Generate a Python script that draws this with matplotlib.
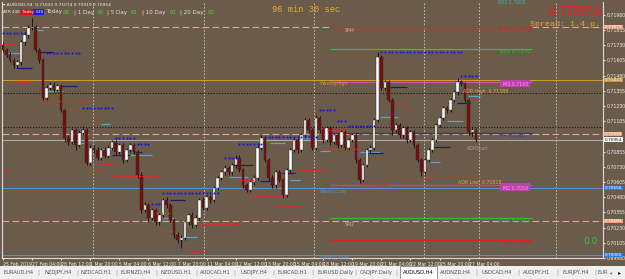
import matplotlib
matplotlib.use("Agg")
import matplotlib.pyplot as plt
from matplotlib.patches import Rectangle
import matplotlib.transforms as mtransforms

W, H = 625, 279
BG = "#6b5b4a"

# ---------------- data ----------------
opens = [0.71731, 0.71690, 0.71649, 0.71608, 0.71567, 0.71591, 0.71756, 0.71813, 0.71871, 0.71879,
         0.71690, 0.71608, 0.71295, 0.71378, 0.71402, 0.71361, 0.71394, 0.71197, 0.70967, 0.70934,
         0.71032, 0.70909, 0.71008, 0.71032, 0.70761, 0.70884, 0.70868, 0.70802, 0.70868, 0.70819,
         0.70884, 0.70934, 0.70852, 0.70909, 0.70786, 0.70868, 0.70909, 0.70852, 0.70663, 0.70375,
         0.70416, 0.70309, 0.70375, 0.70276, 0.70334, 0.70457, 0.70416, 0.70293, 0.70169, 0.70128,
         0.70145, 0.70276, 0.70334, 0.70252, 0.70309, 0.70457, 0.70391, 0.70482, 0.70457, 0.70556,
         0.70638, 0.70687, 0.70720, 0.70687, 0.70745, 0.70802, 0.70704, 0.70580, 0.70539, 0.70605,
         0.70638, 0.70884, 0.70967, 0.70786, 0.70638, 0.70580, 0.70687, 0.70621, 0.70498, 0.70704,
         0.70868, 0.70950, 0.70868, 0.70991, 0.71115, 0.71032, 0.70884, 0.71131, 0.71032, 0.70950,
         0.71049, 0.70934, 0.70991, 0.70909, 0.71016, 0.70884, 0.70950, 0.70991, 0.70786, 0.70621,
         0.70745, 0.70868, 0.70884, 0.71115, 0.71632, 0.71378, 0.71427, 0.71279, 0.71032, 0.71074,
         0.70991, 0.71049, 0.70950, 0.71016, 0.70909, 0.70786, 0.70687, 0.70786, 0.70868, 0.70950,
         0.71074, 0.71131, 0.71213, 0.71197, 0.71279, 0.71345, 0.71427, 0.71411, 0.71279, 0.71016,
         0.71032]
highs = [0.71756, 0.71706, 0.71674, 0.71624, 0.71608, 0.71772, 0.71838, 0.71896, 0.71953, 0.71896,
         0.71706, 0.71624, 0.71402, 0.71427, 0.71427, 0.71411, 0.71411, 0.71213, 0.70991, 0.71049,
         0.71049, 0.71032, 0.71065, 0.71049, 0.70909, 0.70909, 0.70893, 0.70884, 0.70893, 0.70909,
         0.70950, 0.70950, 0.70926, 0.70926, 0.70884, 0.70926, 0.70926, 0.70868, 0.70687, 0.70441,
         0.70432, 0.70391, 0.70391, 0.70350, 0.70473, 0.70482, 0.70432, 0.70309, 0.70194, 0.70169,
         0.70293, 0.70350, 0.70358, 0.70334, 0.70473, 0.70482, 0.70498, 0.70498, 0.70572, 0.70654,
         0.70704, 0.70745, 0.70736, 0.70761, 0.70827, 0.70827, 0.70720, 0.70597, 0.70621, 0.70663,
         0.70909, 0.70991, 0.70983, 0.70802, 0.70663, 0.70704, 0.70704, 0.70638, 0.70720, 0.70884,
         0.70967, 0.70967, 0.71008, 0.71131, 0.71131, 0.71049, 0.71156, 0.71148, 0.71049, 0.71065,
         0.71065, 0.71008, 0.71008, 0.71032, 0.71032, 0.70967, 0.71008, 0.71008, 0.70802, 0.70761,
         0.70884, 0.70909, 0.71131, 0.71674, 0.71649, 0.71443, 0.71443, 0.71295, 0.71090, 0.71090,
         0.71065, 0.71065, 0.71032, 0.71032, 0.70926, 0.70802, 0.70802, 0.70884, 0.70967, 0.71090,
         0.71148, 0.71230, 0.71230, 0.71295, 0.71361, 0.71460, 0.71443, 0.71427, 0.71295, 0.71049,
         0.71049]
lows = [0.71674, 0.71632, 0.71591, 0.71542, 0.71542, 0.71567, 0.71731, 0.71789, 0.71854, 0.71674,
        0.71583, 0.71279, 0.71279, 0.71361, 0.71345, 0.71345, 0.71180, 0.70934, 0.70909, 0.70917,
        0.70868, 0.70893, 0.70991, 0.70745, 0.70745, 0.70843, 0.70786, 0.70786, 0.70802, 0.70802,
        0.70868, 0.70827, 0.70835, 0.70761, 0.70769, 0.70852, 0.70835, 0.70638, 0.70350, 0.70358,
        0.70276, 0.70293, 0.70252, 0.70252, 0.70317, 0.70391, 0.70276, 0.70145, 0.70104, 0.70063,
        0.70128, 0.70252, 0.70227, 0.70235, 0.70293, 0.70375, 0.70375, 0.70432, 0.70441, 0.70539,
        0.70621, 0.70663, 0.70663, 0.70663, 0.70720, 0.70687, 0.70556, 0.70523, 0.70523, 0.70580,
        0.70621, 0.70868, 0.70769, 0.70621, 0.70556, 0.70556, 0.70605, 0.70473, 0.70482, 0.70687,
        0.70852, 0.70843, 0.70852, 0.70967, 0.71008, 0.70868, 0.70868, 0.71008, 0.70926, 0.70934,
        0.70909, 0.70917, 0.70884, 0.70893, 0.70868, 0.70868, 0.70934, 0.70761, 0.70597, 0.70605,
        0.70728, 0.70843, 0.70868, 0.71098, 0.71361, 0.71361, 0.71263, 0.70991, 0.71016, 0.70967,
        0.70967, 0.70926, 0.70934, 0.70884, 0.70769, 0.70654, 0.70671, 0.70769, 0.70852, 0.70934,
        0.71057, 0.71115, 0.71172, 0.71180, 0.71263, 0.71320, 0.71394, 0.71263, 0.70991, 0.70983,
        0.70934]
closes = [0.71690, 0.71649, 0.71608, 0.71567, 0.71591, 0.71756, 0.71813, 0.71871, 0.71879, 0.71690,
          0.71608, 0.71295, 0.71378, 0.71402, 0.71361, 0.71394, 0.71197, 0.70967, 0.70934, 0.71032,
          0.70909, 0.71008, 0.71032, 0.70761, 0.70884, 0.70868, 0.70802, 0.70868, 0.70819, 0.70884,
          0.70934, 0.70852, 0.70909, 0.70786, 0.70868, 0.70909, 0.70852, 0.70663, 0.70375, 0.70416,
          0.70309, 0.70375, 0.70276, 0.70334, 0.70457, 0.70416, 0.70293, 0.70169, 0.70128, 0.70145,
          0.70276, 0.70334, 0.70252, 0.70309, 0.70457, 0.70391, 0.70482, 0.70457, 0.70556, 0.70638,
          0.70687, 0.70720, 0.70687, 0.70745, 0.70802, 0.70704, 0.70580, 0.70539, 0.70605, 0.70638,
          0.70884, 0.70967, 0.70786, 0.70638, 0.70580, 0.70687, 0.70621, 0.70498, 0.70704, 0.70868,
          0.70950, 0.70868, 0.70991, 0.71115, 0.71032, 0.70884, 0.71131, 0.71032, 0.70950, 0.71049,
          0.70934, 0.70991, 0.70909, 0.71016, 0.70884, 0.70950, 0.70991, 0.70786, 0.70621, 0.70745,
          0.70868, 0.70884, 0.71115, 0.71632, 0.71378, 0.71427, 0.71279, 0.71032, 0.71074, 0.70991,
          0.71049, 0.70950, 0.71016, 0.70909, 0.70786, 0.70687, 0.70786, 0.70868, 0.70950, 0.71074,
          0.71131, 0.71213, 0.71197, 0.71279, 0.71345, 0.71427, 0.71411, 0.71279, 0.71016, 0.71032,
          0.70954]

date_labels = ["25 Feb 2019", "27 Feb 04:00", "28 Feb 12:00", "1 Mar 20:00", "5 Mar 04:00",
               "6 Mar 12:00", "7 Mar 20:00", "11 Mar 04:00", "12 Mar 12:00", "13 Mar 20:00",
               "15 Mar 04:00", "18 Mar 12:00", "19 Mar 20:00", "21 Mar 04:00", "22 Mar 12:00",
               "25 Mar 20:00", "27 Mar 04:00"]
date_idx = [0, 8, 16, 24, 32, 40, 48, 56, 64, 72, 80, 88, 96, 104, 112, 120, 128]

# 0.70980 is hidden behind the bid / pivot boxes in the reference
price_ticks = [0.71980, 0.71855, 0.71730, 0.71605, 0.71480, 0.71355, 0.71230, 0.71105,
               0.70855, 0.70730, 0.70605, 0.70480, 0.70355, 0.70230, 0.70105, 0.69980]

# blue dotted resistance marks: (price, first candle, last candle)
blue_dots = [(0.71830, 0, 6), (0.71665, 12, 21), (0.71213, 22, 30), (0.70967, 31, 36),
             (0.70917, 37, 40), (0.70424, 41, 43), (0.70515, 44, 59), (0.70802, 61, 64),
             (0.70917, 65, 71), (0.70975, 72, 86), (0.71197, 87, 91), (0.71106, 92, 94),
             (0.71065, 95, 102), (0.71674, 104, 126), (0.71476, 126, 130)]
# red dotted support marks
red_dots = [(0.71739, 0, 3), (0.71427, 3, 7), (0.71271, 10, 23), (0.71205, 17, 21), (0.71090, 25, 27),
            (0.70695, 0, 2), (0.70695, 23, 27), (0.70753, 27, 31), (0.70654, 30, 43), (0.70350, 42, 46),
            (0.70202, 43, 47), (0.70030, 51, 54), (0.70260, 54, 65), (0.70621, 64, 69), (0.70490, 68, 77),
            (0.70408, 76, 81), (0.70704, 81, 89), (0.71032, 89, 94), (0.70876, 89, 98), (0.70580, 98, 106),
            (0.70646, 116, 131), (0.71287, 128, 131), (0.71238, 108, 112)]
# light blue short levels
lb_segs = [(0.71665, 1, 5), (0.71854, 8, 11), (0.71353, 12, 16.5), (0.71082, 27, 29.5), (0.70926, 19, 23),
           (0.70876, 27, 31.6), (0.70827, 34, 41), (0.70309, 44, 47.3), (0.70153, 48.7, 53.3),
           (0.70646, 62, 67.3), (0.70926, 73.4, 77.5), (0.70621, 79, 81.6), (0.70967, 81.6, 84.4),
           (0.70860, 87, 89.9), (0.70852, 98, 103.6), (0.71139, 103.6, 108.5), (0.71106, 122, 126.4),
           (0.71312, 127.8, 131), (0.70769, 117.3, 120)]
# dark navy short levels
navy_segs = [(0.71674, 9.6, 13.8), (0.71542, 4, 8), (0.71394, 15.7, 20.4), (0.70827, 30, 34.9),
             (0.70852, 36.3, 38.2), (0.70457, 45.9, 50), (0.70745, 63.2, 68.7), (0.70613, 70.6, 74.2),
             (0.70679, 76.7, 80.2), (0.71386, 106.3, 111), (0.71254, 124.7, 128.3), (0.70893, 118, 122.8),
             (0.70843, 100.3, 104.4)]

# daily pivot levels
piv_names = ["R02 0.7188", "R01 0.7170", "", "PP 0.7101", "", "S01 0.7031", "S02 0.7013"]
piv_prices = [0.71879, 0.71698, 0.71427, 0.71008, 0.70580, 0.70309, 0.70128]
piv_colors = ["#e02020", "#30c030", "#d050c0", "#3030b0", "#c040c0", "#30c030", "#e02020"]

# full-width levels
full_prices = [0.71879, 0.71443, 0.71337, 0.71057, 0.70999, 0.70954, 0.70556, 0.70284, 0.70005]
full_colors = ["#e0a890", "#d09a28", "#151515", "#151515", "#e0a890", "#a8a8a8", "#5b8fc8", "#e0a890", "#5b8fc8"]
full_styles = [(0, (6, 3)), "-", (0, (1, 1.5)), (0, (1, 1.5)), (0, (6, 3)), "-", "-", (0, (6, 3)), "-"]

axis_marks = [(0.71879, "#f0a080", "white"), (0.71443, "#c89a28", "white"), (0.70999, "#f0a080", "white"),
              (0.70954, "white", "black"), (0.70556, "#2f7fe0", "white"), (0.70284, "#f0a080", "white"),
              (0.70005, "#2f7fe0", "white")]

tabs = ["EURAUD,H4", "NZDJPY,H4", "NZDCAD,H1", "EURNZD,H4", "NZDUSD,H1", "AUDCAD,H1", "USDJPY,H4",
        "EURCAD,H1", "EURUSD,Daily", "CADJPY,Daily", "AUDUSD,H4", "AUDNZD,H4", "USDCAD,H4",
        "AUDJPY,H1", "EURJPY,H4", "EUR"]

# ---------------- figure ----------------
plt.rcParams['font.family'] = ['DejaVu Sans']
fig = plt.figure(figsize=(W / 100, H / 100), dpi=100)
fig.patch.set_facecolor(BG)


def fx(x):
    return x / W


def fy(y):
    return 1 - y / H


ax = fig.add_axes([fx(2), fy(258), 601 / W, 256 / H])
ax.set_facecolor(BG)
ax.set_xlim(-0.25, 164.9)
ax.set_ylim(0.69980, 0.72085)
for s in ["left", "right", "bottom"]:
    ax.spines[s].set_color("#dcdcdc")
    ax.spines[s].set_linewidth(0.8)
ax.spines["top"].set_visible(False)

# vertical grid
for gx in [24.8, 55.3, 85.5, 115.7, 130.8, 151.9]:
    ax.axvline(gx, color="#d0c8c0", lw=0.6, ls=(0, (2, 2)), zorder=1)

# full width lines
for p, c, st in zip(full_prices, full_colors, full_styles):
    ax.axhline(p, color=c, lw=0.8, ls=st, zorder=2)

# pivot lines
for name, p, c in zip(piv_names, piv_prices, piv_colors):
    ax.hlines(p, 89.9, 145.5, color=c, lw=0.9, zorder=2)
    if name:
        ax.text(136.6, p, name, color=c, fontsize=3.8, va="top", ha="left", zorder=6)
# magenta boxes
for p in [0.71427, 0.70580]:
    ax.add_patch(Rectangle((136.6, p - 0.00045), 8.2, 0.0006, facecolor="#c040b0", edgecolor="none", zorder=5))

# short segments
for p, a, b in lb_segs:
    ax.hlines(p, a, b, color="#5fa0d8", lw=0.9, zorder=3)
for p, a, b in navy_segs:
    ax.hlines(p, a, b, color="#1a1a70", lw=0.9, zorder=3)
for p, a, b in red_dots:
    ax.hlines(p, a, b, color="#ff2020", lw=0.9, ls=(0, (2, 1)), zorder=5)
for p, a, b in blue_dots:
    xs = list(range(a, b + 1))
    ax.plot(xs, [p] * len(xs), ls="none", marker="s", ms=1.3, color="#1010ee", mec="none", zorder=6)

# candles
for i, (o, h, l, c) in enumerate(zip(opens, highs, lows, closes)):
    ax.vlines(i, l, h, color="#141414", lw=0.7, zorder=4)
    bull = c >= o
    ax.add_patch(Rectangle((i - 0.36, min(o, c)), 0.72, max(abs(c - o), 0.00003),
                           facecolor="white" if bull else "#7a0c0c",
                           edgecolor="#2a2a2a", lw=0.3, zorder=4))

# axes ticks
ax.set_xticks(date_idx)
ax.set_xticklabels(date_labels, fontsize=3.3, color="#f0f0f0", ha="left")
ax.tick_params(axis="x", length=1.5, color="#dcdcdc", pad=1.2)
ax.yaxis.tick_right()
ax.set_yticks(price_ticks)
ax.set_yticklabels(["%.5f" % p for p in price_ticks], fontsize=3.3, color="#f0f0f0")
ax.tick_params(axis="y", length=1.5, color="#dcdcdc", pad=1.0)

trans = mtransforms.blended_transform_factory(ax.transAxes, ax.transData)
for p, bg, tc in axis_marks:
    ax.text(1.003, p, "%.5f" % p, transform=trans, fontsize=3.1, color=tc, ha="left", va="center",
            bbox=dict(facecolor=bg, edgecolor="none", pad=0.25), zorder=10, clip_on=False)

# ---------------- texts ----------------
mono = ["Liberation Mono", "DejaVu Sans Mono"]
fig.text(fx(272), fy(10), "96 min 30 sec", color="#e8a830", fontsize=6.3, family=mono, va="center")
fig.text(fx(602), fy(12), "0.70954", color="#e82020", fontsize=11, family=["Liberation Sans"],
         ha="right", va="center")
fig.text(fx(600), fy(25), "Spread: 1.4 p.", color="#e8a830", fontsize=6.0, family=mono, ha="right", va="center")
fig.text(fx(583), fy(242), "0.0", color="#40c040", fontsize=6.5, va="center")

fig.text(fx(3), fy(5), "\u25be AUDUSD,H4  0.71033 0.71074 0.70919 0.70954", color="#f0f0f0", fontsize=3.2,
         va="center")
fig.patches.append(Rectangle((fx(20), fy(15)), 13 / W, 6 / H, transform=fig.transFigure,
                             facecolor="#d01818", edgecolor="none"))
fig.patches.append(Rectangle((fx(33), fy(15)), 11 / W, 6 / H, transform=fig.transFigure,
                             facecolor="#2020d0", edgecolor="none"))
fig.text(fx(3), fy(12), "ATR 448  Today 335", color="#f0f0f0", fontsize=3.0, va="center")
row = [(46, "Today", "#e8e0d0"), (63, "68", "#40d040"), (74, "| 1 Day", "#e8e0d0"), (97, "40", "#40d040"),
       (107, "| 5 Day", "#e8e0d0"), (131, "61", "#40d040"), (142, "| 10 Day", "#e8e0d0"),
       (170, "61", "#40d040"), (180, "| 20 Day", "#e8e0d0"), (208, "62", "#40d040")]
for x, t, c in row:
    fig.text(fx(x), fy(12), t, color=c, fontsize=4.0, va="center")

small = [(320, 83, "WeeklyHigh", "#d09a28"), (463, 92, "ADR High  0.71388", "#e8a030"),
         (467, 148, "ADRStart", "#a0a0a0"), (458, 182, "ADR Low  0.70828", "#e8a030"),
         (320, 192, "WeeklyLow", "#5b8fc8"), (345, 225, "SM2", "#e0a890"), (345, 30, "SM4", "#e0a890"),
         (320, 257, "WeeklyOpen", "#5b8fc8"), (498, 2, "R03 0.7208", "#40b0b0")]
for x, y, t, c in small:
    fig.text(fx(x), fy(y), t, color=c, fontsize=3.4, va="center")
for y, t in [(84, "M3 0.7143"), (188, "M2 0.7058")]:
    fig.text(fx(503), fy(y), t, color="#f0a0e0", fontsize=3.4, va="center")

# ---------------- tab bar ----------------
fig.patches.append(Rectangle((0, 0), 1, 13 / H, transform=fig.transFigure, facecolor="#f0f0f0",
                             edgecolor="none"))
fig.patches.append(Rectangle((fx(400), 0), 37 / W, 13 / H, transform=fig.transFigure, facecolor="white",
                             edgecolor="#808080", lw=0.6))
tab_x = [18, 58, 96, 136, 176, 215, 254, 292, 335, 376, 418, 455, 497, 537, 576, 603]
for x, t in zip(tab_x, tabs):
    fig.text(fx(x), fy(272.5), t, color="#000000" if t == "AUDUSD,H4" else "#505050", fontsize=3.7,
             ha="center", va="center")
for x in [38, 77, 116, 156, 196, 234, 273, 312, 355, 396, 476, 518, 557, 595]:
    fig.text(fx(x), fy(272.5), "|", color="#909090", fontsize=4.0, ha="center", va="center")
fig.text(fx(611), fy(272.5), "\u25c2", color="#909090", fontsize=4.5, ha="center", va="center")
fig.text(fx(620), fy(272.5), "\u25b8", color="#202020", fontsize=4.5, ha="center", va="center")

fig.savefig("out.png", dpi=100, facecolor=BG)
